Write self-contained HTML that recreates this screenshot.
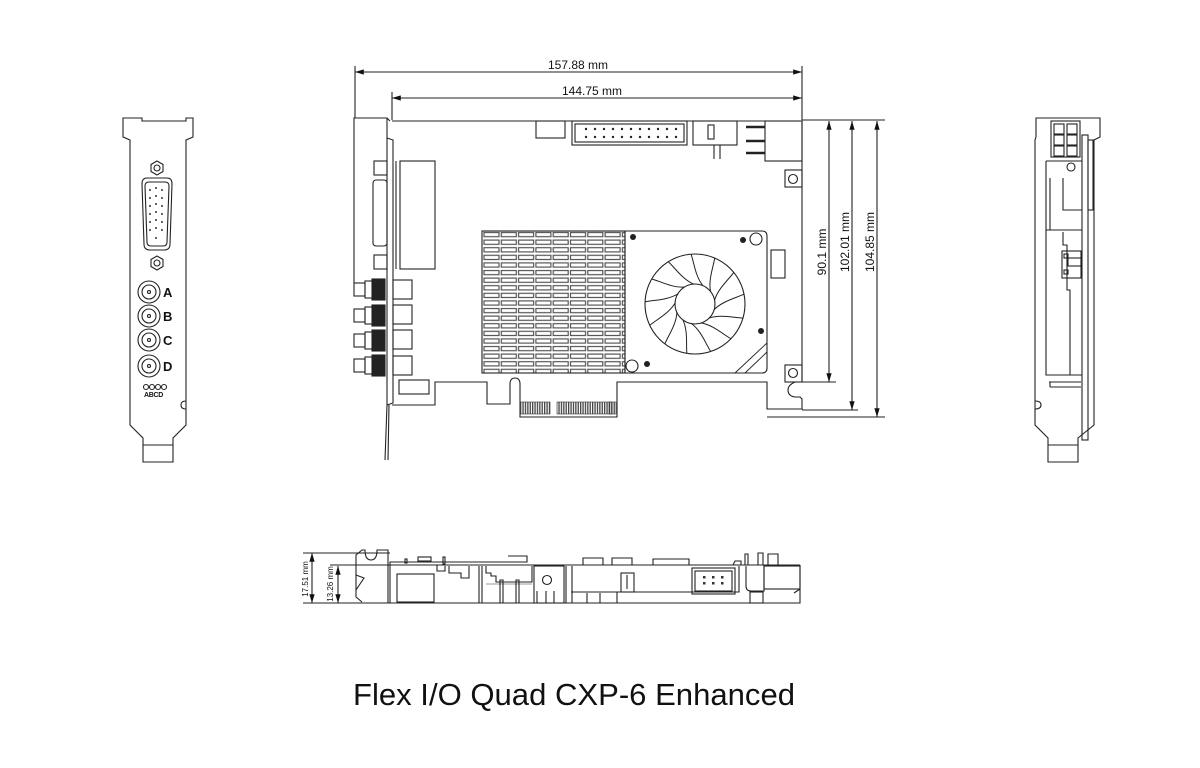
<!DOCTYPE html>
<html><head><meta charset="utf-8"><style>
html,body{margin:0;padding:0;background:#fff;}
svg{display:block;}
text{font-family:"Liberation Sans",sans-serif;fill:#111;}
</style></head><body>
<svg width="1200" height="768" viewBox="0 0 1200 768" xmlns="http://www.w3.org/2000/svg">
<defs>
<marker id="ar" viewBox="0 0 10 10" refX="10" refY="5" markerWidth="8" markerHeight="8" orient="auto-start-reverse"><path d="M0,2 L10,5 L0,8 z" fill="#111"/></marker>
<pattern id="fin" x="483" y="231" width="17.3" height="7.6" patternUnits="userSpaceOnUse">
<rect x="1" y="1.5" width="15" height="4.2" fill="none" stroke="#555" stroke-width="1.2"/>
</pattern>
<pattern id="gold" x="520" y="402" width="2.4" height="14" patternUnits="userSpaceOnUse">
<rect x="0" y="0" width="1.3" height="14" fill="#444"/>
</pattern>
<g id="blade"><path d="M14,14 C26,10 40,14 48,14" fill="none" stroke="#222" stroke-width="1"/></g>
</defs>
<g fill="none" stroke="#222" stroke-width="1.1">
<line x1="355" y1="66" x2="355" y2="118"/>
<line x1="392" y1="92" x2="392" y2="120"/>
<line x1="802" y1="66" x2="802" y2="120"/>
<line x1="355" y1="72" x2="802" y2="72" marker-start="url(#ar)" marker-end="url(#ar)"/>
<line x1="392" y1="98" x2="802" y2="98" marker-start="url(#ar)" marker-end="url(#ar)"/>
<line x1="802" y1="120" x2="885" y2="120"/>
<line x1="800" y1="382" x2="836" y2="382"/>
<line x1="802" y1="410" x2="858" y2="410"/>
<line x1="767" y1="417" x2="885" y2="417"/>
<line x1="829" y1="121" x2="829" y2="382" marker-start="url(#ar)" marker-end="url(#ar)"/>
<line x1="852" y1="121" x2="852" y2="410" marker-start="url(#ar)" marker-end="url(#ar)"/>
<line x1="877" y1="121" x2="877" y2="417" marker-start="url(#ar)" marker-end="url(#ar)"/>

<path d="M392,121 L802,121 L802,382 L795,382 Q788,385 788,390 Q788,396 795,397 L800,397 L802,399 L802,409 L767,409 L767,382 L617,382 L617,417 L520,417 L520,384 Q520,378 515,378 Q510,378 510,384 L510,404 L487,404 L487,382 L435,382 L435,405 L392,405"/>
<path d="M354,283 L354,118 L387,118 L390,121"/>
<path d="M387,138 L393,140 L393,403 L387,405 Z"/>
<line x1="387" y1="405" x2="385" y2="460"/>
<line x1="389" y1="405" x2="388" y2="460"/>
<line x1="387" y1="138" x2="387" y2="118"/>
<rect x="400" y="161" width="35" height="108"/>
<line x1="396" y1="161" x2="396" y2="269"/>
<rect x="374" y="161" width="13" height="14"/>
<rect x="374" y="255" width="13" height="14"/>
<rect x="373" y="180" width="14" height="66" rx="3"/>
<g>
<rect x="354" y="283" width="11" height="13"/><rect x="365" y="281" width="8" height="17"/><rect x="372" y="279" width="13" height="21" fill="#222"/><rect x="393" y="280" width="19" height="19"/>
<rect x="354" y="309" width="11" height="13"/><rect x="365" y="307" width="8" height="17"/><rect x="372" y="305" width="13" height="21" fill="#222"/><rect x="393" y="305" width="19" height="19"/>
<rect x="354" y="334" width="11" height="13"/><rect x="365" y="332" width="8" height="17"/><rect x="372" y="330" width="13" height="21" fill="#222"/><rect x="393" y="330" width="19" height="19"/>
<rect x="354" y="359" width="11" height="13"/><rect x="365" y="357" width="8" height="17"/><rect x="372" y="355" width="13" height="21" fill="#222"/><rect x="393" y="356" width="19" height="19"/>
</g>
<rect x="399" y="380" width="30" height="14"/>
<rect x="536" y="121" width="29" height="17"/>
<rect x="572" y="121" width="115" height="24"/>
<rect x="575" y="124" width="109" height="18"/>
<rect x="693" y="121" width="44" height="24"/>
<rect x="708" y="125" width="6" height="14"/>
<line x1="714" y1="145" x2="714" y2="159"/><line x1="720" y1="145" x2="720" y2="159"/>
<rect x="765" y="121" width="37" height="40"/>
<path d="M746,127 h19 M746,141 h19 M746,153 h19" stroke-width="2.5"/>
<rect x="785" y="170" width="17" height="17"/><circle cx="793" cy="179" r="4.5"/>
<rect x="785" y="365" width="17" height="17"/><circle cx="793" cy="373" r="4.5"/>
<rect x="482" y="231" width="143" height="142" fill="url(#fin)" stroke="#222"/>
<path d="M625,231 L762,231 Q767,231 767,236 L767,368 Q767,373 762,373 L625,373 Z"/>
<circle cx="695" cy="304" r="50"/>
<circle cx="695" cy="304" r="20"/>
<path d="M735,373 L767,343 M745,373 L767,352" stroke-width="0.9"/>
<rect x="771" y="250" width="14" height="28"/>
<circle cx="756" cy="239" r="6"/><circle cx="632" cy="366" r="6"/>
</g>
<g fill="#222">
<circle cx="633" cy="237" r="3"/><circle cx="743" cy="240" r="3"/><circle cx="761" cy="331" r="3"/><circle cx="647" cy="364" r="3"/>
<g>
<circle cx="586" cy="129" r="1.2"/><circle cx="595" cy="129" r="1.2"/><circle cx="604" cy="129" r="1.2"/><circle cx="613" cy="129" r="1.2"/><circle cx="622" cy="129" r="1.2"/><circle cx="631" cy="129" r="1.2"/><circle cx="640" cy="129" r="1.2"/><circle cx="649" cy="129" r="1.2"/><circle cx="658" cy="129" r="1.2"/><circle cx="667" cy="129" r="1.2"/><circle cx="676" cy="129" r="1.2"/>
<circle cx="586" cy="137" r="1.2"/><circle cx="595" cy="137" r="1.2"/><circle cx="604" cy="137" r="1.2"/><circle cx="613" cy="137" r="1.2"/><circle cx="622" cy="137" r="1.2"/><circle cx="631" cy="137" r="1.2"/><circle cx="640" cy="137" r="1.2"/><circle cx="649" cy="137" r="1.2"/><circle cx="658" cy="137" r="1.2"/><circle cx="667" cy="137" r="1.2"/><circle cx="676" cy="137" r="1.2"/>
</g>
</g>
<rect x="520" y="402" width="30" height="12" fill="url(#gold)" stroke="#333" stroke-width="0.6"/>
<rect x="557" y="402" width="55" height="12" fill="url(#gold)" stroke="#333" stroke-width="0.6"/>
<rect x="609" y="402" width="7" height="12" fill="url(#gold)" stroke="#333" stroke-width="0.6"/>
<g transform="translate(695,304)">
<use href="#blade"/><use href="#blade" transform="rotate(27.7)"/><use href="#blade" transform="rotate(55.4)"/><use href="#blade" transform="rotate(83.1)"/><use href="#blade" transform="rotate(110.8)"/><use href="#blade" transform="rotate(138.5)"/><use href="#blade" transform="rotate(166.2)"/><use href="#blade" transform="rotate(193.8)"/><use href="#blade" transform="rotate(221.5)"/><use href="#blade" transform="rotate(249.2)"/><use href="#blade" transform="rotate(276.9)"/><use href="#blade" transform="rotate(304.6)"/><use href="#blade" transform="rotate(332.3)"/>
</g>
<text x="578" y="69" font-size="12" text-anchor="middle">157.88 mm</text>
<text x="592" y="95" font-size="12" text-anchor="middle">144.75 mm</text>
<text transform="translate(826,252) rotate(-90)" font-size="12" text-anchor="middle">90.1 mm</text>
<text transform="translate(849,242) rotate(-90)" font-size="12" text-anchor="middle">102.01 mm</text>
<text transform="translate(874,242) rotate(-90)" font-size="12" text-anchor="middle">104.85 mm</text>

<g fill="none" stroke="#222" stroke-width="1.1">
<path d="M123,118 L142,118 L142,121 L186,121 L186,118 L193,118 L193,137 L186,140 L186,425 L173,438 L173,462 L143,462 L143,438 L130,425 L130,140 L123,137 Z"/>
<path d="M186,401 Q181,401 181,405 Q181,409 186,409"/>
<line x1="143" y1="445" x2="173" y2="445"/>
<path d="M147,178 L167,178 Q172,178 172,184 L170,244 Q170,250 164,250 L150,250 Q144,250 144,244 L142,184 Q142,178 147,178 Z"/>
<path d="M149,182 L165,182 Q169,182 169,186 L167,242 Q167,246 163,246 L151,246 Q147,246 147,242 L145,186 Q145,182 149,182 Z"/>
<polygon points="157,161 163,164.5 163,171.5 157,175 151,171.5 151,164.5"/><circle cx="157" cy="168" r="3"/>
<polygon points="157,256 163,259.5 163,266.5 157,270 151,266.5 151,259.5"/><circle cx="157" cy="263" r="3"/>
<circle cx="149" cy="292" r="11"/><circle cx="149" cy="292" r="7"/><circle cx="149" cy="292" r="1.5"/>
<circle cx="149" cy="316" r="11"/><circle cx="149" cy="316" r="7"/><circle cx="149" cy="316" r="1.5"/>
<circle cx="149" cy="340" r="11"/><circle cx="149" cy="340" r="7"/><circle cx="149" cy="340" r="1.5"/>
<circle cx="149" cy="366" r="11"/><circle cx="149" cy="366" r="7"/><circle cx="149" cy="366" r="1.5"/>
<circle cx="146" cy="387" r="2.5"/><circle cx="152" cy="387" r="2.5"/><circle cx="158" cy="387" r="2.5"/><circle cx="164" cy="387" r="2.5"/>
</g>
<g fill="#333">
<circle cx="150" cy="190" r="1"/><circle cx="156" cy="188" r="1"/><circle cx="162" cy="190" r="1"/>
<circle cx="150" cy="198" r="1"/><circle cx="156" cy="196" r="1"/><circle cx="162" cy="198" r="1"/>
<circle cx="150" cy="206" r="1"/><circle cx="156" cy="204" r="1"/><circle cx="162" cy="206" r="1"/>
<circle cx="150" cy="214" r="1"/><circle cx="156" cy="212" r="1"/><circle cx="162" cy="214" r="1"/>
<circle cx="150" cy="222" r="1"/><circle cx="156" cy="220" r="1"/><circle cx="162" cy="222" r="1"/>
<circle cx="150" cy="230" r="1"/><circle cx="156" cy="228" r="1"/><circle cx="162" cy="230" r="1"/>
<circle cx="156" cy="238" r="1"/>
</g>
<text x="163" y="297" font-size="13" font-weight="bold">A</text>
<text x="163" y="321" font-size="13" font-weight="bold">B</text>
<text x="163" y="345" font-size="13" font-weight="bold">C</text>
<text x="163" y="371" font-size="13" font-weight="bold">D</text>
<text x="144" y="397" font-size="7" font-weight="bold" letter-spacing="-0.3">ABCD</text>

<g fill="none" stroke="#222" stroke-width="1.1">
<path d="M1036,118 L1100,118 L1100,137 L1094,140 L1094,425 L1078,438 L1078,462 L1048,462 L1048,438 L1035,425 L1035,140 L1036,137 Z"/>
<path d="M1035,401 Q1041,401 1041,405 Q1041,409 1035,409"/>
<line x1="1048" y1="445" x2="1078" y2="445"/>
<rect x="1051" y="121" width="29" height="36"/>
<rect x="1054" y="124" width="10" height="10"/><rect x="1067" y="124" width="10" height="10"/>
<rect x="1054" y="135" width="10" height="10"/><rect x="1067" y="135" width="10" height="10"/>
<rect x="1054" y="146" width="10" height="10"/><rect x="1067" y="146" width="10" height="10"/>
<rect x="1082" y="135" width="6" height="305"/>
<rect x="1088" y="140" width="5" height="70"/>
<path d="M1046,161 L1046,230 L1082,230 M1050,178 L1050,230 M1063,178 L1063,210 L1082,210 M1046,161 L1082,161"/>
<circle cx="1071" cy="167" r="4"/>
<path d="M1046,230 L1046,375 L1082,375"/>
<path d="M1063,232 L1063,245 L1067,245 L1067,290 L1070,290 L1070,375"/>
<rect x="1062" y="251" width="19" height="27"/>
<rect x="1068" y="258" width="13" height="8"/>
<rect x="1064" y="254" width="4" height="4"/><rect x="1064" y="270" width="4" height="4"/>
<path d="M1049,382 L1081,382 M1050,387 L1081,387 M1050,387 L1050,382"/>
</g>

<g fill="none" stroke="#222" stroke-width="1.1">
<line x1="303" y1="553" x2="390" y2="553"/>
<line x1="330" y1="565" x2="800" y2="565"/>
<line x1="303" y1="603" x2="390" y2="603"/>
<line x1="312" y1="553" x2="312" y2="603" marker-start="url(#ar)" marker-end="url(#ar)"/>
<line x1="338" y1="566" x2="338" y2="603" marker-start="url(#ar)" marker-end="url(#ar)"/>
<path d="M362,602 L356,597 L356,555 L362,550 L365,550 Q365,560 371,560 Q377,560 377,550 L388,550 L388,603"/>
<path d="M356,575 L364,578 L356,590"/>
<path d="M390,603 L390,562 L527,562 L527,556 L508,556"/>
<rect x="405" y="559" width="2" height="4"/><rect x="418" y="557" width="13" height="4"/><rect x="443" y="557" width="2" height="7"/>
<path d="M390,603 L800,603 L800,565"/>
<rect x="397" y="574" width="37" height="28"/>
<path d="M437,565 L437,571 L445,571 L445,566 M449,566 L449,573 L461,573 L461,578 L469,578 L469,566"/>
<path d="M479,566 L479,603 M482,566 L482,603 M486,566 L486,573 L491,573 L491,576 L496,576 L496,582 L532,582 L532,566"/>
<line x1="486" y1="584" x2="532" y2="584" stroke="#999"/>
<path d="M500,603 L500,580 L503,580 L503,603 M516,603 L516,580 L519,580 L519,603"/>
<rect x="534" y="566" width="30" height="37"/><circle cx="547" cy="580" r="4.5"/>
<path d="M537,603 L537,591 M546,603 L546,591 M554,603 L554,591 M566,566 L566,603 M572,566 L572,603"/>
<path d="M571,592 L739,592 L739,566"/>
<path d="M587,603 L587,593 M600,603 L600,593 M617,603 L617,592"/>
<rect x="621" y="573" width="13" height="19"/><line x1="627" y1="575" x2="627" y2="589"/>
<path d="M583,565 L583,558 L603,558 L603,565 M612,565 L612,558 L632,558 L632,565 M653,565 L653,559 L689,559 L689,565"/>
<rect x="692" y="568" width="43" height="26"/>
<rect x="695" y="571" width="37" height="20"/>
<path d="M733,565 L735,561 L741,561 L741,565 M745,565 L745,554 L748,554 L748,565 M758,565 L758,553 L763,553 L763,565 M768,565 L768,554 L778,554 L778,565"/>
<path d="M746,566 L746,586 Q746,591 751,591 L764,591 L764,566"/>
<rect x="764" y="566" width="36" height="23"/>
<rect x="750" y="592" width="13" height="11"/>
<path d="M800,589 L794,593"/>
</g>
<g fill="#333">
<rect x="703" y="576" width="2.5" height="2.5"/><rect x="712" y="576" width="2.5" height="2.5"/><rect x="721" y="576" width="2.5" height="2.5"/>
<rect x="703" y="582" width="2.5" height="2.5"/><rect x="712" y="582" width="2.5" height="2.5"/><rect x="721" y="582" width="2.5" height="2.5"/>
</g>
<text transform="translate(308,579) rotate(-90)" font-size="8" text-anchor="middle">17.51 mm</text>
<text transform="translate(333,584) rotate(-90)" font-size="8" text-anchor="middle">13.26 mm</text>

<text x="353" y="705" font-size="31" textLength="442" lengthAdjust="spacingAndGlyphs" style="fill:#111">Flex I/O Quad CXP-6 Enhanced</text>
</svg>
</body></html>
